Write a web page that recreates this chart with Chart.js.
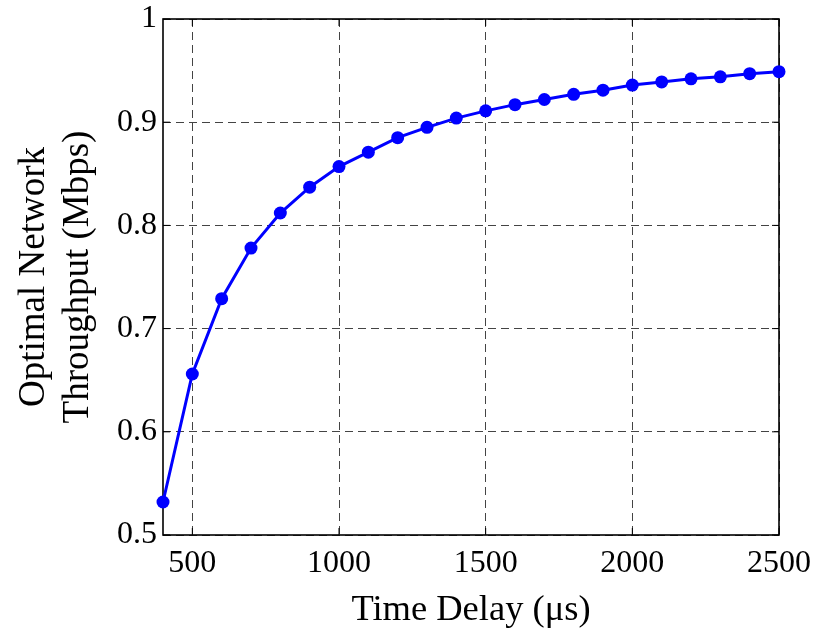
<!DOCTYPE html>
<html>
<head>
<meta charset="utf-8">
<script src="https://cdn.jsdelivr.net/npm/chart.js@4.4.1/dist/chart.umd.min.js"></script>
<style>
  html, body { margin: 0; padding: 0; background: #fff; }
  #grafico { display: block; }
</style>
</head>
<body>
<canvas id="grafico" width="824" height="636"></canvas>
<script>
// datos
const tiempos = [400, 500, 600, 700, 800, 900, 1000, 1100, 1200, 1300, 1400,
  1500, 1600, 1700, 1800, 1900, 2000, 2100, 2200, 2300, 2400, 2500];
const throughput = [0.532, 0.656, 0.729, 0.778, 0.812, 0.837, 0.857, 0.871,
  0.885, 0.895, 0.904, 0.911, 0.917, 0.922, 0.927, 0.931, 0.936, 0.939,
  0.942, 0.944, 0.947, 0.949];
const xTicks = [500, 1000, 1500, 2000, 2500];
const xTickLabels = ["500", "1000", "1500", "2000", "2500"];
const yTicks = [0.5, 0.6, 0.7, 0.8, 0.9, 1];
const yTickLabels = ["0.5", "0.6", "0.7", "0.8", "0.9", "1"];

const fuente = "'Liberation Serif', 'Times New Roman', serif";

// marco negro y ticks hacia adentro (estilo matlab)
const marco = {
  id: "marco",
  beforeDatasetsDraw(chart) {
    const { ctx, chartArea: a, scales } = chart;
    const largo = 7;
    ctx.save();
    ctx.strokeStyle = "#000";
    ctx.lineWidth = 1;
    ctx.beginPath();
    xTicks.forEach((v) => {
      const px = scales.x.getPixelForValue(v);
      ctx.moveTo(px, a.bottom);
      ctx.lineTo(px, a.bottom - largo);
      ctx.moveTo(px, a.top);
      ctx.lineTo(px, a.top + largo);
    });
    yTicks.forEach((v) => {
      const py = scales.y.getPixelForValue(v);
      ctx.moveTo(a.left, py);
      ctx.lineTo(a.left + largo, py);
      ctx.moveTo(a.right, py);
      ctx.lineTo(a.right - largo, py);
    });
    ctx.stroke();
    ctx.lineWidth = 1.6;
    ctx.strokeRect(a.left, a.top, a.right - a.left, a.bottom - a.top);
    ctx.restore();
  },
};

new Chart(document.getElementById("grafico"), {
  type: "line",
  data: {
    datasets: [
      {
        data: tiempos.map((t, i) => ({ x: t, y: throughput[i] })),
        borderColor: "#0000ff",
        backgroundColor: "#0000ff",
        borderWidth: 3,
        pointRadius: 6.5,
        pointBorderWidth: 0,
        tension: 0,
        clip: false,
      },
    ],
  },
  options: {
    responsive: false,
    animation: false,
    layout: { padding: { top: 19, right: 45, left: 0, bottom: 0 } },
    plugins: {
      legend: { display: false },
      tooltip: { enabled: false },
    },
    scales: {
      x: {
        type: "linear",
        min: 400,
        max: 2500,
        afterBuildTicks: (s) => {
          s.ticks = xTicks.map((v) => ({ value: v }));
        },
        afterFit: (s) => {
          s.height = 101;
        },
        ticks: {
          color: "#000",
          font: { family: fuente, size: 32 },
          padding: 9,
          maxRotation: 0,
          autoSkip: false,
          callback: (v) => xTickLabels[xTicks.indexOf(v)],
        },
        grid: { color: "#444", lineWidth: 1, drawTicks: false },
        border: { display: false, dash: [8, 5] },
        title: {
          display: true,
          text: "Time Delay (μs)",
          color: "#000",
          font: { family: fuente, size: 36.5, lineHeight: 1.2 },
          padding: { top: 0, bottom: 4 },
        },
      },
      y: {
        min: 0.5,
        max: 1,
        afterBuildTicks: (s) => {
          s.ticks = yTicks.map((v) => ({ value: v }));
        },
        afterFit: (s) => {
          s.width = 163;
        },
        ticks: {
          color: "#000",
          font: { family: fuente, size: 32, lineHeight: 0.8 },
          padding: 6,
          callback: (v) => yTickLabels[yTicks.indexOf(v)],
        },
        grid: { color: "#444", lineWidth: 1, drawTicks: false },
        border: { display: false, dash: [8, 5] },
        title: {
          display: true,
          text: ["Optimal Network", "Throughput (Mbps)"],
          color: "#000",
          font: { family: fuente, size: 37, lineHeight: 1.17 },
          padding: { top: 13, bottom: 0 },
        },
      },
    },
  },
  plugins: [marco],
});
</script>
</body>
</html>
